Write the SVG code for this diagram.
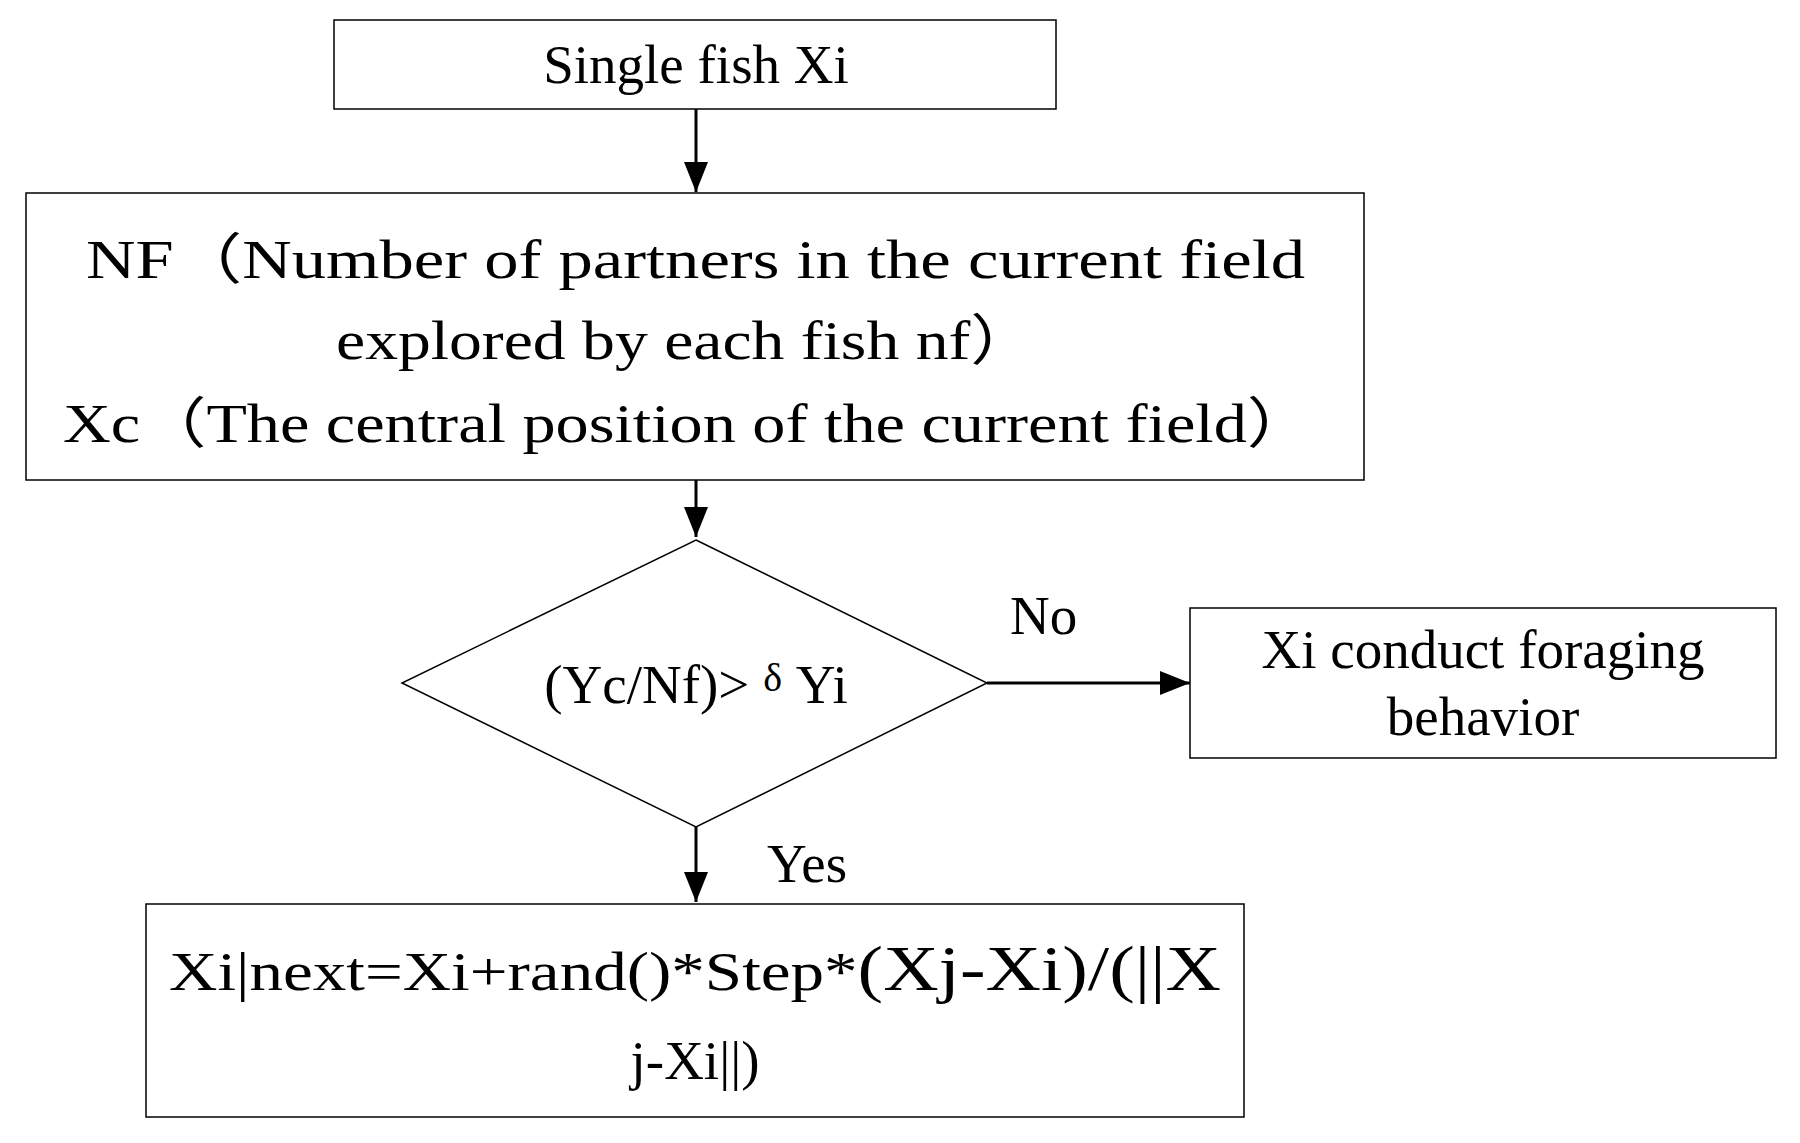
<svg xmlns="http://www.w3.org/2000/svg" width="1800" height="1143" viewBox="0 0 1800 1143">
<style>
.b{fill:#fff;stroke:#000;stroke-width:1.5}
.t{font-family:"Liberation Serif","Noto Sans CJK SC",serif;font-size:55px;fill:#000}
.c{stroke:#000;stroke-width:3;fill:none}
</style>
<defs><marker id="a" markerWidth="10" markerHeight="12" refX="10" refY="6" orient="auto" markerUnits="userSpaceOnUse" viewBox="0 0 10 12"><path d="M0,0L10,6L0,12z" fill="#000"/></marker>
<marker id="a2" viewBox="0 0 30 24" refX="30" refY="12" markerWidth="30" markerHeight="24" orient="auto" markerUnits="userSpaceOnUse"><path d="M0,0L30,12L0,24z" fill="#000"/></marker></defs>
<rect width="1800" height="1143" fill="#fff"/>
<g id="n1"><rect class="b" x="334" y="20" width="722" height="89"/><text class="t" x="696" y="83" text-anchor="middle">Single fish Xi</text></g>
<g id="n2"><rect class="b" x="26" y="193" width="1338" height="287"/>
<text class="t" x="86" y="278" textLength="1219" lengthAdjust="spacingAndGlyphs">NF（Number of partners in the current field</text>
<text class="t" x="336" y="359" textLength="700" lengthAdjust="spacingAndGlyphs">explored by each fish nf）</text>
<text class="t" x="63" y="442" textLength="1250" lengthAdjust="spacingAndGlyphs">Xc（The central position of the current field）</text></g>
<g id="n3"><polygon class="b" points="696,540 987,683 696,827 402,683"/><text class="t" x="696" y="703" text-anchor="middle">(Yc/Nf)&gt; <tspan font-size="40" dy="-12">δ</tspan><tspan dy="12"> Yi</tspan></text></g>
<g id="n4"><rect class="b" x="1190" y="608" width="586" height="150"/><text class="t" x="1483" y="668" text-anchor="middle">Xi conduct foraging</text><text class="t" x="1483" y="735" text-anchor="middle">behavior</text></g>
<g id="n5"><rect class="b" x="146" y="904" width="1098" height="213"/>
<text class="t" x="169" y="990" textLength="1052" lengthAdjust="spacingAndGlyphs">Xi|next=Xi+rand()*Step*<tspan font-size="63">(Xj-Xi)/(||X</tspan></text>
<text class="t" x="695" y="1079" text-anchor="middle" font-size="63">j-Xi||)</text></g>
<g id="edges">
<line class="c" x1="696" y1="109" x2="696" y2="192" marker-end="url(#a2)"/>
<line class="c" x1="696" y1="480" x2="696" y2="537" marker-end="url(#a2)"/>
<line class="c" x1="987" y1="683" x2="1190" y2="683" marker-end="url(#a2)"/>
<line class="c" x1="696" y1="827" x2="696" y2="902" marker-end="url(#a2)"/>
<text class="t" x="1010" y="634">No</text>
<text class="t" x="767" y="882">Yes</text>
</g>
</svg>
